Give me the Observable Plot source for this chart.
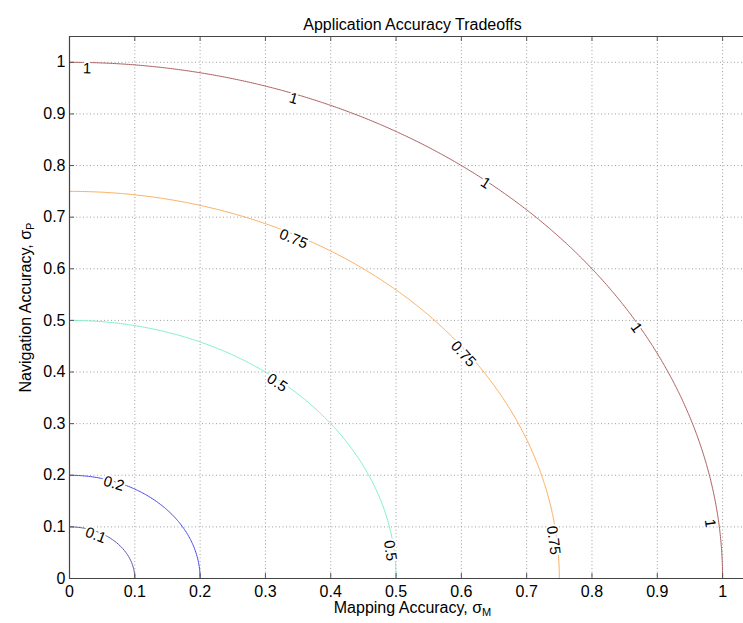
<!DOCTYPE html>
<html>
<head>
<meta charset="utf-8">
<script src="https://cdn.jsdelivr.net/npm/d3@7"></script>
<script src="https://cdn.jsdelivr.net/npm/@observablehq/plot@0.6"></script>
<style>
  html, body { margin: 0; padding: 0; background: #fff; overflow: hidden; }
</style>
</head>
<body>
<div id="chart"></div>
<script>
// ---- data ----
const title = "Application Accuracy Tradeoffs";
const xLabel = "Mapping Accuracy, σM";
const yLabel = "Navigation Accuracy, σP";
const levels = [0.1, 0.2, 0.5, 0.75, 1];
const levelColors = ["#5858ac", "#4646f2", "#78f4c4", "#ffac52", "#b05a5a"];
const xTicks = [0, 0.1, 0.2, 0.3, 0.4, 0.5, 0.6, 0.7, 0.8, 0.9, 1];
const yTicks = [0, 0.1, 0.2, 0.3, 0.4, 0.5, 0.6, 0.7, 0.8, 0.9, 1];
// contour labels (level, position along the line)
const labelLevel = [1, 1, 1, 1, 1, 0.75, 0.75, 0.75, 0.5, 0.5, 0.2, 0.1];
const labelX = [0.027, 0.343, 0.637, 0.868, 0.981, 0.343, 0.603, 0.741, 0.318, 0.491, 0.068, 0.040];
const labelY = [0.988, 0.930, 0.766, 0.486, 0.107, 0.658, 0.435, 0.074, 0.379, 0.054, 0.184, 0.084];

// ---- layout ----
const W = 743, H = 623;
const mL = 69, mR = 0, mT = 36, mB = 45;
const xMax = 1.032, yMax = 1.05;
const sx = (W - mL - mR) / xMax, sy = (H - mT - mB) / yMax;
const tickLen = 5;

const labels = labelLevel.map((v, i) => ({v, x: labelX[i], y: labelY[i]}));

const chart = Plot.plot({
  width: W, height: H,
  marginLeft: mL, marginRight: mR, marginTop: mT, marginBottom: mB,
  style: {fontFamily: "'Liberation Sans', Arial, sans-serif", fontSize: "16px", color: "#000"},
  x: {domain: [0, xMax], axis: null},
  y: {domain: [0, yMax], axis: null},
  color: {type: "ordinal", domain: levels, range: levelColors},
  marks: [
    Plot.gridX(xTicks.slice(1), {stroke: "#888", strokeOpacity: 1, strokeDasharray: "1,2.5", strokeWidth: 0.8}),
    Plot.gridY(yTicks.slice(1), {stroke: "#888", strokeOpacity: 1, strokeDasharray: "1,2.5", strokeWidth: 0.8}),
    Plot.contour({
      value: (x, y) => Math.hypot(x, y),
      x1: -1.2, y1: -1.2, x2: 1.2, y2: 1.2,
      thresholds: levels,
      stroke: "value", fill: "none", strokeWidth: 1,
      clip: true
    }),
    Plot.text(labels, {
      x: "x", y: "y", text: d => String(d.v),
      rotate: d => Math.atan2(d.x * sy, d.y * sx) * 180 / Math.PI,
      fill: "#000", stroke: "white", strokeWidth: 4, paintOrder: "stroke",
      fontSize: 15, textAnchor: "middle"
    }),
    // inward tick marks
    Plot.ruleX(xTicks, {y1: 0, y2: tickLen / sy, stroke: "#555"}),
    Plot.ruleX(xTicks, {y1: yMax, y2: yMax - tickLen / sy, stroke: "#555"}),
    Plot.ruleY(yTicks, {x1: 0, x2: tickLen / sx, stroke: "#555"}),
    // box
    Plot.ruleX([0], {stroke: "#444", strokeWidth: 1.2}),
    Plot.ruleY([0, yMax], {stroke: "#444", strokeWidth: 1.2}),
    // tick labels
    Plot.axisX(xTicks, {tickSize: 0, tickPadding: 7, tickFormat: d => String(d), fontSize: 16, label: null}),
    Plot.axisY(yTicks, {tickSize: 0, tickPadding: 4, tickFormat: d => String(d), fontSize: 16, label: null}),
    // title and axis labels
    Plot.text([title], {frameAnchor: "top", dy: -18, dx: 6, fontSize: 16, textAnchor: "middle"}),
    Plot.text([xLabel], {frameAnchor: "bottom", dy: 34, dx: 6, fontSize: 16, textAnchor: "middle"}),
    Plot.text([yLabel], {frameAnchor: "left", dx: -44, rotate: -90, fontSize: 16, textAnchor: "middle"})
  ]
});

// subscripts on the sigma symbols
d3.select(chart).selectAll("text").each(function() {
  const t = this.textContent;
  if (t === xLabel || t === yLabel) {
    const sub = t.slice(-1);
    const main = t.slice(0, -1);
    const sel = d3.select(this);
    sel.text(null);
    sel.append("tspan").text(main);
    sel.append("tspan").attr("dy", "0.35em").attr("font-size", "11").text(sub);
  }
});

document.getElementById("chart").appendChild(chart);
</script>
</body>
</html>
